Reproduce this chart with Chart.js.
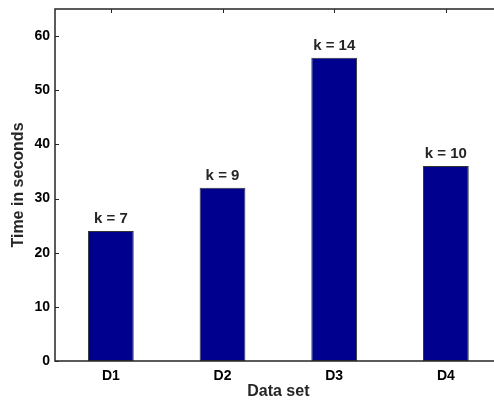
<!DOCTYPE html>
<html>
<head>
<meta charset="utf-8">
<script src="https://cdn.jsdelivr.net/npm/chart.js@4.4.1/dist/chart.umd.min.js"></script>
<style>
  html, body { margin: 0; padding: 0; background: #fff; overflow: hidden; }
  #wrap { width: 494px; height: 403px; overflow: hidden; position: relative; }
  canvas { display: block; }
</style>
</head>
<body>
<div id="wrap"><canvas id="c" width="520" height="403"></canvas></div>
<script>
// Run time per data set, with the k used for each run
const categories = ['D1', 'D2', 'D3', 'D4'];
const seconds = [24, 32, 56, 36];
const kLabels = ['k = 7', 'k = 9', 'k = 14', 'k = 10'];
const yTicks = [0, 10, 20, 30, 40, 50, 60];
const yMax = 65;

const FONT = '"Liberation Sans", Arial, Helvetica, sans-serif';
const AXIS_COLOR = '#262626';

// Box, inward tick marks and k annotations
const frame = {
  id: 'frame',
  afterDatasetsDraw(chart) {
    const { ctx, chartArea: a, scales: { x, y } } = chart;
    ctx.save();
    ctx.strokeStyle = AXIS_COLOR;
    ctx.lineWidth = 1.5;
    ctx.beginPath();
    ctx.moveTo(a.left, a.top); ctx.lineTo(a.right, a.top);
    ctx.lineTo(a.right, a.bottom); ctx.lineTo(a.left, a.bottom);
    ctx.closePath();
    ctx.stroke();

    ctx.lineWidth = 1;
    ctx.beginPath();
    yTicks.forEach(v => {
      const py = Math.round(y.getPixelForValue(v)) + 0.5;
      ctx.moveTo(a.left, py); ctx.lineTo(a.left + 4, py);
      ctx.moveTo(a.right, py); ctx.lineTo(a.right - 4, py);
    });
    categories.forEach((c, i) => {
      const px = Math.round(x.getPixelForValue(i)) + 0.5;
      ctx.moveTo(px, a.top); ctx.lineTo(px, a.top + 4);
    });
    ctx.stroke();

    ctx.fillStyle = '#262626';
    ctx.font = 'bold 15px ' + FONT;
    ctx.textAlign = 'center';
    ctx.textBaseline = 'middle';
    chart.getDatasetMeta(0).data.forEach((bar, i) => {
      ctx.fillText(kLabels[i], bar.x, bar.y - 12);
    });
    ctx.restore();
  }
};

new Chart(document.getElementById('c'), {
  type: 'bar',
  data: {
    labels: categories,
    datasets: [{
      data: seconds,
      backgroundColor: '#00008f',
      borderColor: '#333333',
      borderWidth: 1,
      borderSkipped: false,
      barPercentage: 0.41,
      categoryPercentage: 1.0
    }]
  },
  options: {
    responsive: false,
    animation: false,
    devicePixelRatio: 1,
    layout: { padding: { top: 9, right: 18.3, left: 0, bottom: 0 } },
    plugins: { legend: { display: false }, tooltip: { enabled: false } },
    scales: {
      x: {
        grid: { display: false, drawTicks: false },
        border: { display: false },
        ticks: { color: '#000', padding: 7, font: { family: FONT, size: 14, weight: 'bold' } },
        title: {
          display: true, text: 'Data set', color: '#262626',
          font: { family: FONT, size: 16, weight: 'bold' },
          padding: { top: 0, bottom: 1.5 }
        },
        afterFit(s) { s.height = 42; s.paddingLeft = 0; s.paddingRight = 0; }
      },
      y: {
        min: 0, max: yMax,
        grid: { display: false, drawTicks: false },
        border: { display: false },
        afterBuildTicks(s) { s.ticks = yTicks.map(v => ({ value: v })); },
        ticks: { color: '#000', padding: 5, font: { family: FONT, size: 14, weight: 'bold' } },
        title: {
          display: true, text: 'Time in seconds', color: '#262626',
          font: { family: FONT, size: 16, weight: 'bold' },
          padding: { top: 9, bottom: 0 }
        },
        afterFit(s) { s.width = 55; s.paddingTop = 0; s.paddingBottom = 0; }
      }
    }
  },
  plugins: [frame]
});
</script>
</body>
</html>
